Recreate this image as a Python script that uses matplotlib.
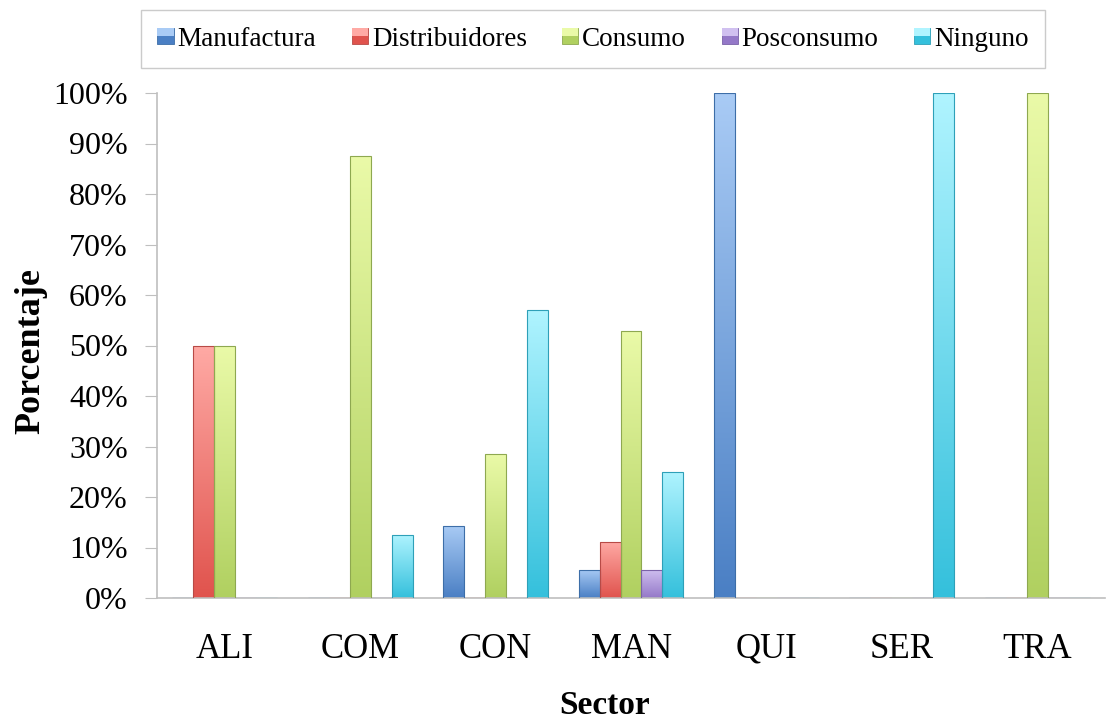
import numpy as np
import matplotlib
matplotlib.use("Agg")
import matplotlib.pyplot as plt
from matplotlib.colors import LinearSegmentedColormap
from matplotlib.patches import Patch, Rectangle
from matplotlib.legend_handler import HandlerBase

plt.rcParams['font.family'] = ['Liberation Serif', 'DejaVu Serif']

sectors = ['ALI', 'COM', 'CON', 'MAN', 'QUI', 'SER', 'TRA']
series = ['Manufactura', 'Distribuidores', 'Consumo', 'Posconsumo', 'Ninguno']

manufactura = [0, 0, 14.3, 5.6, 100, 0, 0]
distribuidores = [50, 0, 0, 11.1, 0, 0, 0]
consumo = [50, 87.5, 28.6, 52.8, 0, 0, 100]
posconsumo = [0, 0, 0, 5.6, 0, 0, 0]
ninguno = [0, 12.5, 57.1, 25, 0, 100, 0]

values = [manufactura, distribuidores, consumo, posconsumo, ninguno]

# (top colour, bottom colour) for each series
shades = [('#a9cbf5', '#4a7fc4'),
          ('#ffaaa5', '#e0534d'),
          ('#eafaa8', '#b0d060'),
          ('#d0c0f0', '#9478c8'),
          ('#b0f4ff', '#34c0dc')]
edges = ['#3d6ea8', '#b84a46', '#8ea850', '#7a62a8', '#2ea0b8']

fig = plt.figure(figsize=(11.07, 7.21), dpi=100)
ax = fig.add_axes([157 / 1107, 123 / 721, (1105 - 157) / 1107, (598 - 93) / 721])

width = 0.155
x = np.arange(len(sectors))
grad = np.linspace(1, 0, 256).reshape(-1, 1)

for i, (vals, (top, bot), ec) in enumerate(zip(values, shades, edges)):
    cmap = LinearSegmentedColormap.from_list(series[i], [bot, top])
    pos = x + (i - 2) * width
    bars = ax.bar(pos, vals, width, color='none', edgecolor=ec, linewidth=0.8, zorder=3)
    for b, v in zip(bars, vals):
        if v <= 0:
            continue
        x0 = b.get_x()
        im = ax.imshow(grad, cmap=cmap, aspect='auto', origin='upper',
                       extent=[x0, x0 + width, 0, v], zorder=2, vmin=0, vmax=1)
        im.set_clip_path(b)


class GradientHandler(HandlerBase):
    def __init__(self, top, bot, ec):
        super().__init__()
        self.top, self.bot, self.ec = top, bot, ec

    def create_artists(self, legend, orig_handle, xdescent, ydescent,
                       width, height, fontsize, trans):
        s = height * 0.85
        y0 = -ydescent + (height - s) / 2
        r = Rectangle((width - s, y0), s, s, facecolor=self.bot,
                      edgecolor=self.ec, linewidth=0.6, transform=trans)
        r2 = Rectangle((width - s, y0 + s * 0.5), s, s * 0.5,
                       facecolor=self.top, edgecolor='none', transform=trans)
        return [r, r2]


handles = [Patch(label=s) for s in series]
hmap = {h: GradientHandler(t, b, e) for h, (t, b), e in zip(handles, shades, edges)}
leg = fig.legend(handles=handles, loc='center', bbox_to_anchor=(593 / 1107, 1 - 39 / 721),
                 ncol=5, fontsize=19.5, handler_map=hmap, frameon=True, fancybox=False,
                 handlelength=0.6, handletextpad=0.15, columnspacing=1.3,
                 borderpad=0.6, borderaxespad=0)
leg.get_frame().set_edgecolor('#bfbfbf')
leg.get_frame().set_linewidth(1.0)

ax.set_xlim(-0.5, len(sectors) - 0.5)
ax.set_ylim(0, 100)
ax.set_xticks(x)
ax.set_xticklabels(sectors, fontsize=25)
ax.set_yticks(np.arange(0, 101, 10))
ax.set_yticklabels([f'{v}%' for v in range(0, 101, 10)], fontsize=23)
ax.tick_params(axis='x', length=0, pad=25)
ax.tick_params(axis='y', length=9, color='#bfbfbf', pad=12)

for side in ['top', 'right']:
    ax.spines[side].set_visible(False)
ax.spines['left'].set_color('#bfbfbf')
ax.spines['bottom'].set_color('#bfbfbf')
ax.spines['left'].set_linewidth(1.2)
ax.spines['bottom'].set_linewidth(1.2)

ax.set_xlabel('Sector', fontsize=24, fontweight='bold')
ax.xaxis.set_label_coords((605 - 157) / 948, -(714 - 598) / 505)
ax.xaxis.label.set_va('baseline')
ax.set_ylabel('Porcentaje', fontsize=26, fontweight='bold')
ax.yaxis.set_label_coords(-(157 - 31) / 948, (598 - 351) / 505)
ax.yaxis.label.set_va('center')

fig.savefig('out.png', dpi=100)
